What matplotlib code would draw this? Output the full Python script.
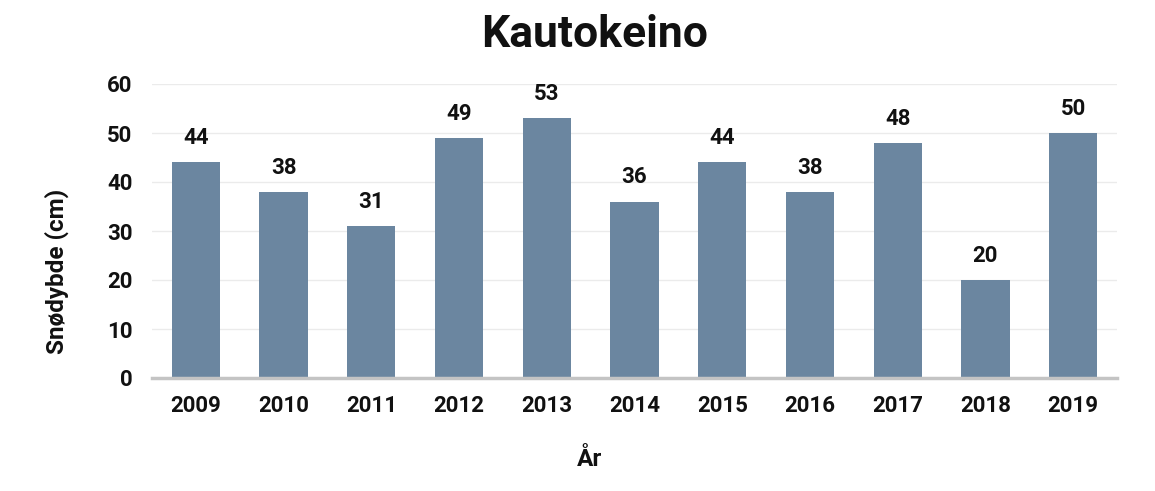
import matplotlib
matplotlib.use("Agg")
import matplotlib.pyplot as plt

years = ["2009", "2010", "2011", "2012", "2013", "2014", "2015", "2016", "2017", "2018", "2019"]
snow_depth = [44, 38, 31, 49, 53, 36, 44, 38, 48, 20, 50]
y_ticks = [0, 10, 20, 30, 40, 50, 60]

plt.rcParams['font.family'] = ['Roboto', 'DejaVu Sans']

W, H = 1155, 491
fig = plt.figure(figsize=(W / 100, H / 100), dpi=100)
ax = fig.add_axes([152/W, 113/H, (1117-152)/W, (378-84)/H])

x = list(range(len(years)))
ax.bar(x, snow_depth, width=0.55, color="#6b86a0", zorder=3)
for xi, v in zip(x, snow_depth):
    ax.text(xi, v + 2.7, str(v), ha="center", va="bottom", fontsize=16,
            fontweight="bold", color="#111111")

ax.set_xlim(-0.5, len(years) - 0.5)
ax.set_ylim(0, 60)
ax.set_yticks(y_ticks)
ax.set_xticks(x)
ax.set_xticklabels(years)
ax.tick_params(axis="both", length=0, labelsize=16, colors="#111111")
for lbl in ax.get_xticklabels() + ax.get_yticklabels():
    lbl.set_fontweight("bold")
ax.tick_params(axis="x", pad=12)
ax.tick_params(axis="y", pad=14)
ax.grid(axis="y", color="#ebebeb", linewidth=1, zorder=0)
for s in ["top", "right", "left"]:
    ax.spines[s].set_visible(False)
ax.spines["bottom"].set_color("#c4c4c4")
ax.spines["bottom"].set_linewidth(2.5)
ax.spines["bottom"].set_zorder(4)

fig.text(57/W, 1 - 271/H, "Snødybde (cm)", rotation=90, ha="center", va="center",
         fontsize=17.5, fontweight="bold", color="#111111")
fig.text(590/W, 1 - 459/H, "År", ha="center", va="center",
         fontsize=17.5, fontweight="bold", color="#111111")
fig.text(595/W, 1 - 35/H, "Kautokeino", ha="center", va="center",
         fontsize=32, fontweight="bold", color="#111111")

fig.savefig("out.png", dpi=100, facecolor="white")
